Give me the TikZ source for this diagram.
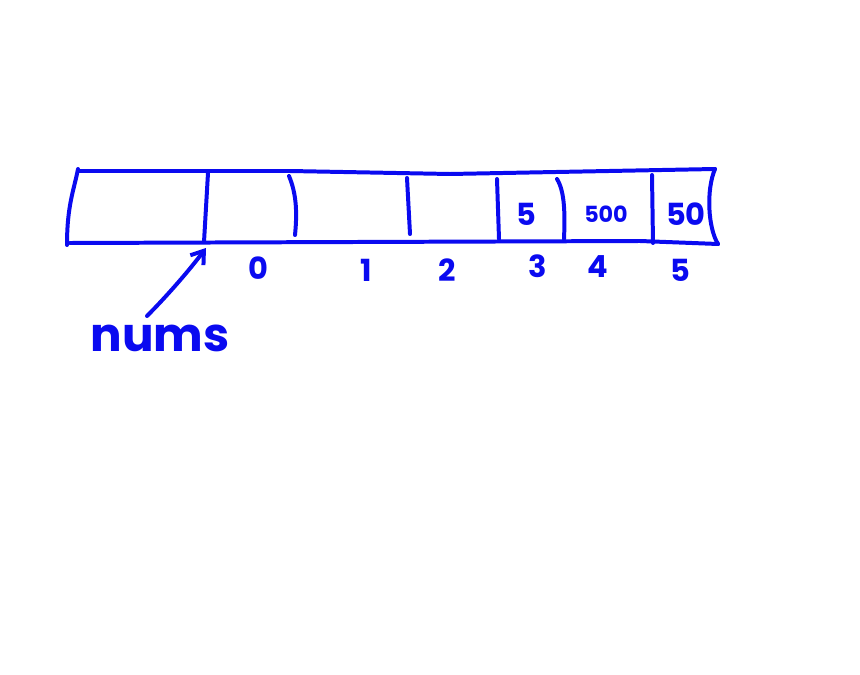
\documentclass[tikz,border=0pt]{standalone}
\usepackage{fontspec}
\setmainfont{Poppins}
\usetikzlibrary{arrows.meta, positioning}
\definecolor{ink}{HTML}{0A0AF0}

\begin{document}
\begin{tikzpicture}[x=0.03cm, y=-0.03cm, line width=3.4pt, line cap=round, line join=round,
          pen/.style={draw=ink},
          val/.style={text=ink, font=\fontsize{26}{28}\selectfont\bfseries, inner sep=0pt},
          idx/.style={text=ink, font=\fontsize{26}{28}\selectfont\bfseries, inner sep=0pt}]
        \fill[white] (0,0) rectangle (860,675);
        \useasboundingbox (0,0) rectangle (860,675);
        % outline of the array
        \draw[pen] (78,169) .. controls (74,190) and (67,205) .. (67,245);
        \draw[pen] (78,171) -- (290,171) -- (450,174) -- (715,169);
        \draw[pen] (70,243) -- (640,241) -- (718,244);
        \draw[pen] (715,169) .. controls (706,190) and (708,228) .. (718,244);
        % cell walls
        \draw[pen] (208,173) -- (204,242);
        \draw[pen] (289,176) .. controls (297,195) and (297,215) .. (295,235);
        \draw[pen] (407,178) -- (410,234);
        \draw[pen] (497,179) -- (499,239);
        \draw[pen] (557,179) .. controls (565,192) and (565,215) .. (564,239);
        \draw[pen] (652,175) -- (653,243);
        % values
        \node[val] (v3) at (526,214) {5};
        \node[val, font=\fontsize{19}{21}\selectfont\bfseries] (v4) at (606,214) {500};
        \node[val] (v5) at (686,214) {50};
        % indices
        \node[idx] (i0) at (258,268) {0};
        \node[idx] (i1) at (366,270) {1};
        \node[idx] (i2) at (447,270) {2};
        \node[idx] (i3) at (538,266) {3};
        \node[idx] (i4) at (598,267) {4};
        \node[idx] (i5) at (680,270) {5};
        % pointer
        \node[text=ink, font=\fontsize{40}{42}\selectfont\bfseries, inner sep=0pt] (nums) at (160,338) {nums};
        \coordinate (base) at (206,248);
        \draw[pen, -{Straight Barb[length=10pt, width=14pt]}] (147,316) .. controls (165,298) and (188,272) .. (base);
      \end{tikzpicture}
\end{document}
